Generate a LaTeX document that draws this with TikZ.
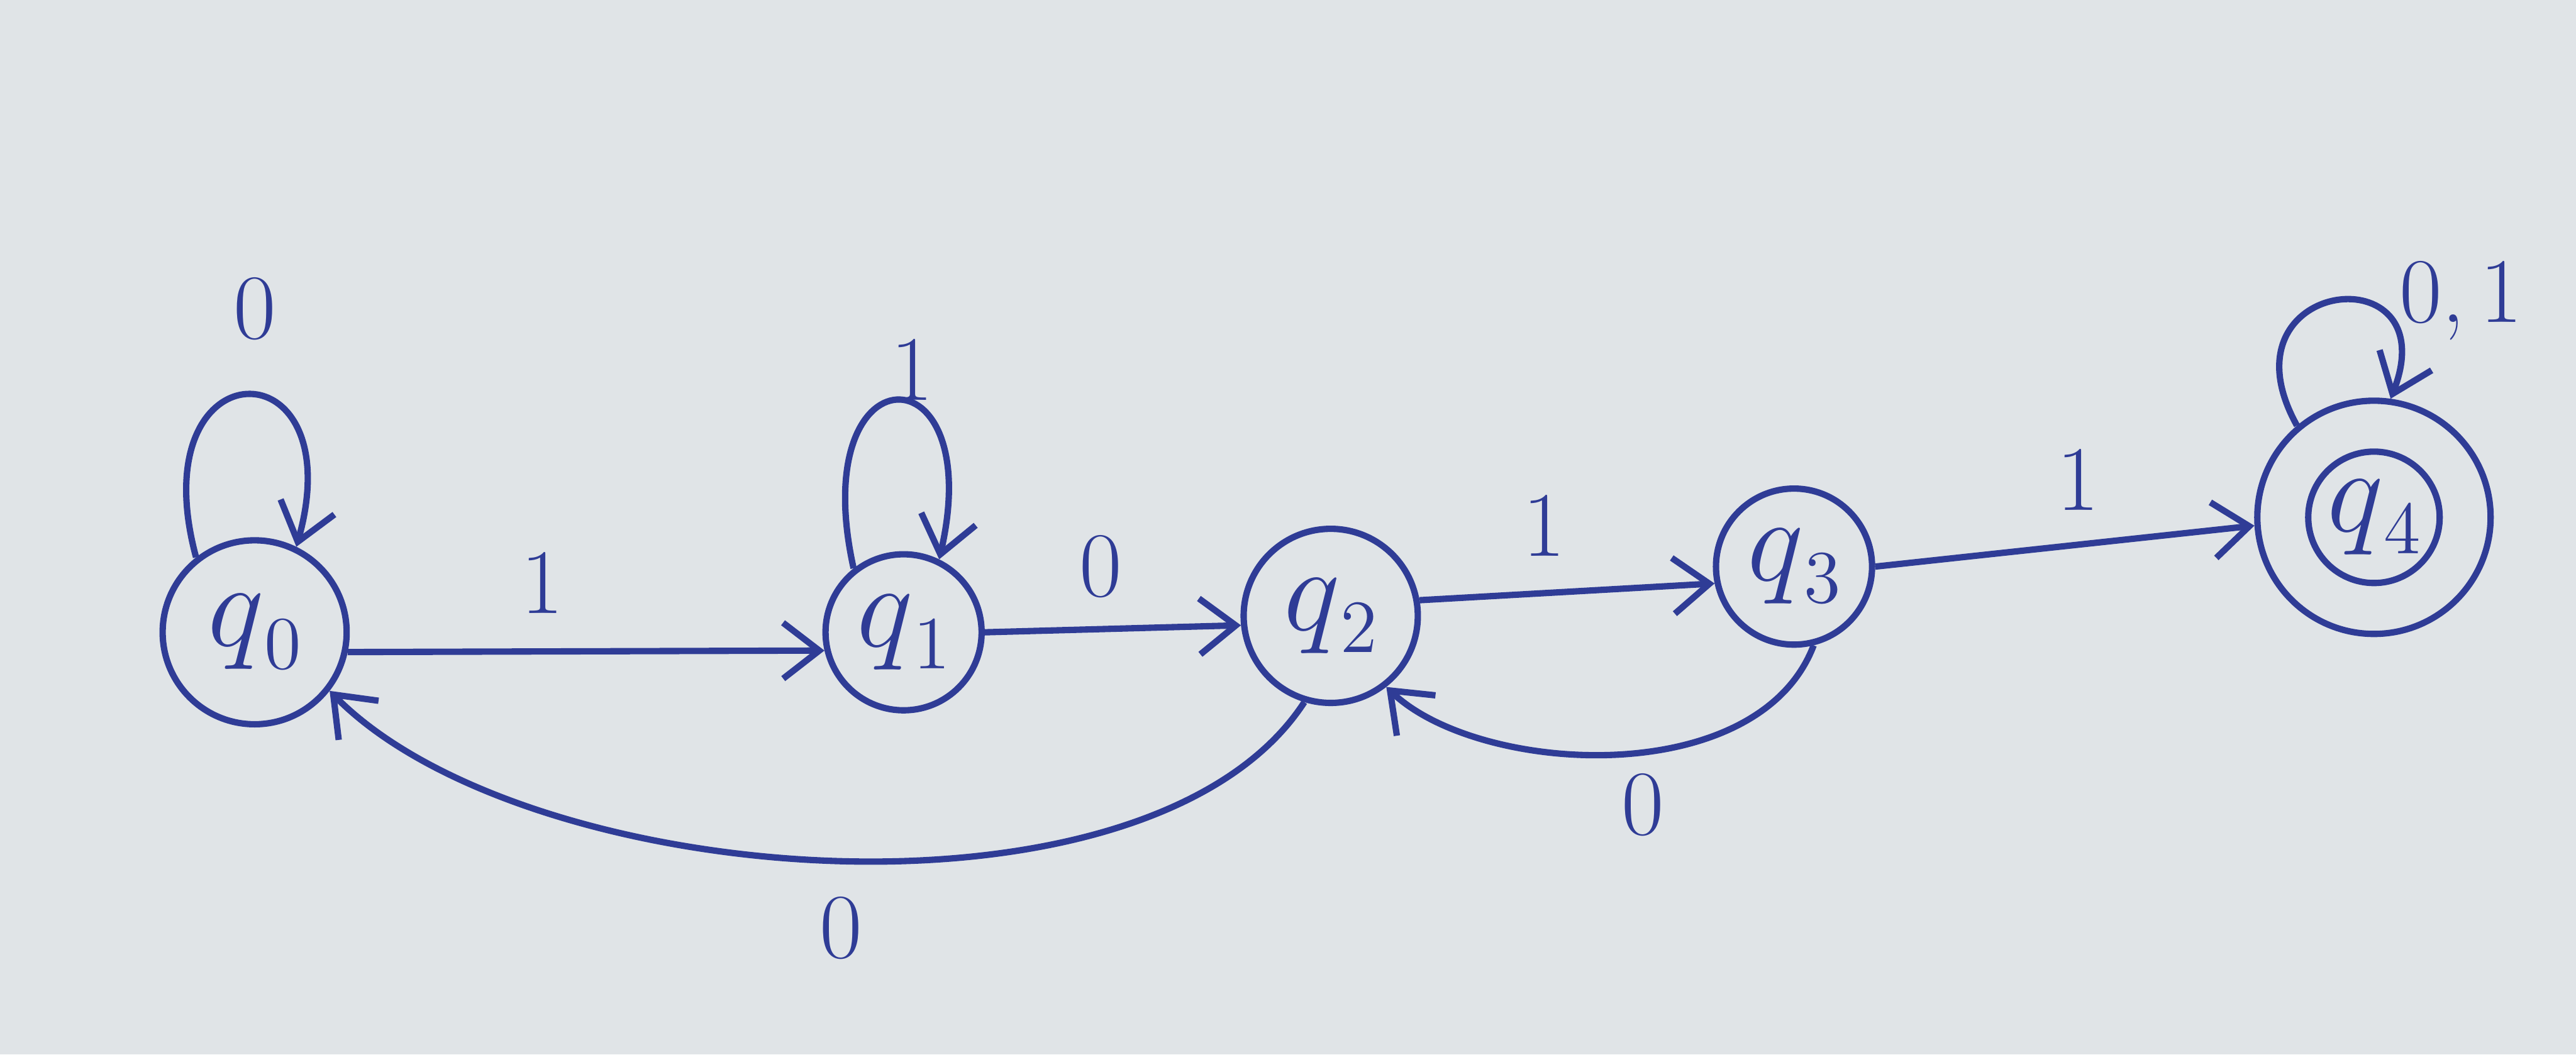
\documentclass[tikz,border=0pt]{standalone}
\usetikzlibrary{arrows.meta}
\definecolor{paper}{RGB}{224,228,231}
\definecolor{ink}{RGB}{47,60,150}
\newcommand{\stlab}[1]{$q$\raisebox{-0.45ex}{\fontsize{13}{15}\selectfont #1}}
\tikzset{
  state/.style={circle,draw=ink,line width=1.1pt,inner sep=0pt,text=ink,font=\fontsize{20}{24}\selectfont},
  edge/.style={draw=ink,line width=1.1pt,-{Straight Barb[length=2.2mm,width=3.4mm,line width=1.1pt]}},
  lbl/.style={text=ink,inner sep=0pt,font=\fontsize{16}{19}\selectfont}
}
\begin{document}
\begin{tikzpicture}
\useasboundingbox (0,0) rectangle (15.68,6.42);
\fill[paper] (0,0) rectangle (15.68,6.42);
% states
\node[state,minimum size=1.12cm] (q0) at (1.55,2.57) {\stlab{0}};
\node[state,minimum size=0.95cm] (q1) at (5.50,2.57) {\stlab{1}};
\node[state,minimum size=1.06cm] (q2) at (8.10,2.67) {\stlab{2}};
\node[state,minimum size=0.95cm] (q3) at (10.92,2.97) {\stlab{3}};
\node[state,minimum size=1.42cm] (q4) at (14.45,3.27) {};
\node[state,minimum size=0.80cm] (q4i) at (14.45,3.27) {\stlab{4}};
% straight transitions
\draw[edge] (q0.-12) -- (q1.193);
\draw[edge] (q1.0) -- (q2.186);
\draw[edge] (q2.10) -- (q3.192);
\draw[edge] (q3.0) -- (q4.184);
% self loops
\draw[edge] (q0.128) .. controls +(-0.35,1.3) and +(0.35,1.25) .. (q0.64);
\draw[edge] (q1.128) .. controls +(-0.3,1.35) and +(0.3,1.3) .. (q1.64);
\draw[edge] (q4.130) .. controls +(-0.5,0.9) and +(0.35,0.9) .. (q4.82);
% curved transitions
\draw[edge] (q3.-76) .. controls (10.7,1.6) and (9.0,1.7) .. (q2.-52);
\draw[edge] (q2.-107) .. controls (7.0,0.7) and (3.2,1.0) .. (q0.-38);
% labels
\node[lbl] (l00) at (1.55,4.54) {0};
\node[lbl] (l01) at (3.30,2.87) {1};
\node[lbl] (l11) at (5.55,4.17) {1};
\node[lbl] (l12) at (6.70,2.97) {0};
\node[lbl] (l23) at (9.40,3.22) {1};
\node[lbl] (l34) at (12.65,3.50) {1};
\node[lbl] (l44) at (14.98,4.59) {0,\,1};
\node[lbl] (l32) at (10.00,1.52) {0};
\node[lbl] (l20) at (5.12,0.77) {0};
\end{tikzpicture}
\end{document}
